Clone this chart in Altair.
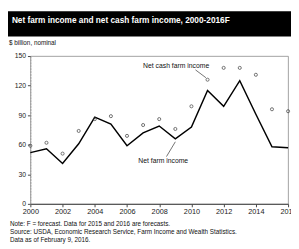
import altair as alt
import pandas as pd

years = list(range(2000, 2017))
net_farm_income = [52, 56, 41, 61, 88, 81, 59, 72, 79, 66, 78, 115, 99, 125, 91, 58, 57]
net_cash_farm_income = [59, 62, 51, 74, 86, 89, 69, 80, 86, 76, 99, 126, 138, 138, 131, 96, 94]
x_ticks = [2000, 2002, 2004, 2006, 2008, 2010, 2012, 2014, 2016]
y_ticks = [0, 30, 60, 90, 120, 150]

title_text = "Net farm income and net cash farm income, 2000-2016F"
unit_text = "$ billion, nominal"
note_lines = [
    "Note: F = forecast. Data for 2015 and 2016 are forecasts.",
    "Source: USDA, Economic Research Service, Farm Income and Wealth Statistics.",
    "Data as of February 9, 2016.",
]

# annotations in data coordinates
ann_labels = ["Net cash farm income", "Net farm income"]
ann_x = [2007.0, 2006.7]
ann_y = [140, 43]
lead_x = [2010.25, 2010.9, 2008.45, 2009.0]
lead_y = [136, 128, 48, 63]
lead_id = ["a", "a", "b", "b"]

FONT = "Liberation Sans"

df = pd.DataFrame({"year": years, "nfi": net_farm_income, "ncfi": net_cash_farm_income})
ann = pd.DataFrame({"label": ann_labels, "x": ann_x, "y": ann_y})
lead = pd.DataFrame({"x": lead_x, "y": lead_y, "id": lead_id})

xscale = alt.Scale(domain=[2000, 2016], nice=False, zero=False)
yscale = alt.Scale(domain=[0, 150], nice=False)

xaxis = alt.Axis(values=x_ticks, format="d", title=None, grid=False, labelFontSize=7.5,
                 labelFont=FONT, labelColor="#222", tickSize=3, tickColor="#444",
                 domainColor="#444", labelPadding=1, labelFlush=False, labelOverlap=False)
yaxis = alt.Axis(values=y_ticks, title=None, grid=False, labelFontSize=7,
                 labelFont=FONT, labelColor="#222", tickSize=3, tickColor="#444",
                 domainColor="#999", domainDash=[2, 1], labelPadding=2, labelOverlap=False)

def X(field):
    return alt.X(field, type="quantitative", scale=xscale, axis=xaxis)

def Y(field):
    return alt.Y(field, type="quantitative", scale=yscale, axis=yaxis)

base = alt.Chart(df)
line = base.mark_line(color="black", strokeWidth=1.5).encode(x=X("year"), y=Y("nfi"))
pts = base.mark_point(shape="circle", filled=False, size=10, color="#333", strokeWidth=1).encode(
    x=X("year"), y=Y("ncfi")
)
ann_text = alt.Chart(ann).mark_text(align="left", baseline="middle", fontSize=7, font=FONT, color="#111").encode(
    x=X("x"), y=Y("y"), text="label:N"
)
lead_lines = alt.Chart(lead).mark_line(color="#333", strokeWidth=0.7).encode(
    x=X("x"), y=Y("y"), detail="id:N"
)

one = pd.DataFrame({"a": [0]})
title_bar = alt.Chart(one).mark_rect(color="black").encode(
    x=alt.value(-23), x2=alt.value(272), y=alt.value(-46), y2=alt.value(-20)
)
title = alt.Chart(one).mark_text(align="left", baseline="middle", fontSize=8.5, fontWeight="bold",
                                 font=FONT, color="white").encode(
    x=alt.value(-19), y=alt.value(-37), text=alt.value(title_text)
)
unit = alt.Chart(one).mark_text(align="left", baseline="middle", fontSize=6.5, font=FONT, color="#111").encode(
    x=alt.value(-22), y=alt.value(-13), text=alt.value(unit_text)
)
notes = alt.Chart(one).mark_text(align="left", baseline="middle", fontSize=6.5, font=FONT, color="#111",
                                 lineBreak="\n", lineHeight=8).encode(
    x=alt.value(-21), y=alt.value(173), text=alt.value("\n".join(note_lines))
)

chart = alt.layer(title_bar, title, unit, line, pts, lead_lines, ann_text, notes).properties(
    width=265, height=152,
    autosize=alt.AutoSizeParams(type="none"),
    padding={"left": 23, "top": 46, "right": 3, "bottom": 43},
).configure_view(stroke="#888", strokeWidth=0.8).configure_axis(labelOverlap=False)

chart.save("out.html", embed_options={"renderer": "svg", "actions": False})
